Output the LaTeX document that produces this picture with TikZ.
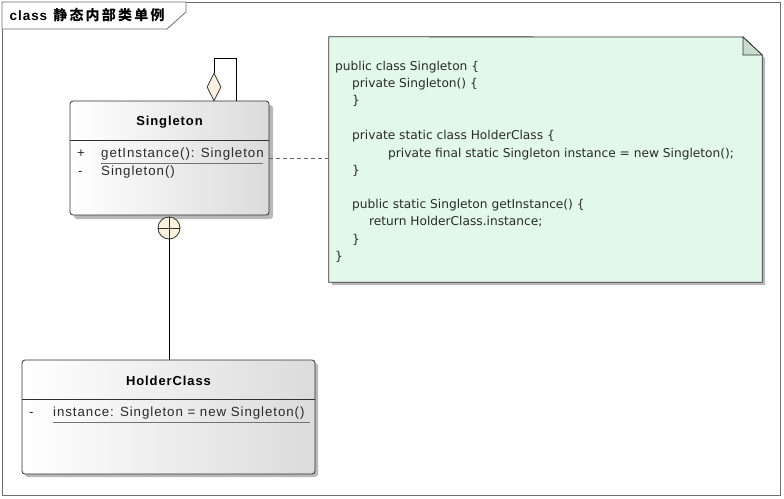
\documentclass[tikz,border=0pt]{standalone}
\usepackage{fontspec}
\setmainfont{Liberation Sans}
\newfontfamily\cjkfont[LetterSpace=16]{Noto Sans CJK SC}
\newfontfamily\umlfont[LetterSpace=7]{Liberation Sans}
\newfontfamily\notefont{DejaVu Sans}
\usetikzlibrary{shapes.geometric}
\definecolor{framec}{HTML}{6E6E6E}
\definecolor{linec}{HTML}{303030}
\definecolor{txtc}{HTML}{2A2A2A}
\definecolor{beige}{HTML}{FBF1E0}
\definecolor{notegreen}{HTML}{E2F9EA}
\definecolor{foldgreen}{HTML}{C9DCCD}
\definecolor{shadowc}{HTML}{B8B8B8}
\tikzset{
  classbox/.style={draw=linec, line width=0.8pt, rounded corners=3pt, left color=white, right color=black!14, inner sep=0pt},
  member/.style={anchor=west, inner sep=0pt, text height=9.5pt, text depth=3pt, text=txtc, font=\umlfont\fontsize{13.3}{15}\selectfont},
  ctitle/.style={inner sep=0pt, text=black, font=\umlfont\bfseries\fontsize{13}{15}\selectfont},
  codeline/.style={anchor=west, inner sep=0pt, text height=9pt, text depth=3pt, text=txtc, font=\notefont\fontsize{12.2}{14}\selectfont},
  uline/.style={draw=black!55, line width=0.7pt},
  conn/.style={draw=black, line width=0.8pt},
}
\begin{document}
\begin{tikzpicture}[x=1pt,y=-1pt]
\useasboundingbox (0,0) rectangle (784,498);
% frame
\draw[framec, line width=0.8pt] (2,2) rectangle (780,495);
\draw[framec, line width=0.8pt, fill=white] (2,2) -- (186,2) -- (186,12) -- (167,29) -- (2,29) -- cycle;
\node[anchor=west, inner sep=0pt, font=\umlfont\bfseries\fontsize{13.5}{15}\selectfont] (title) at (9.5,15) {class\hspace{6pt}\cjkfont\bfseries\fontsize{14}{15}\selectfont 静态内部类单例};
% Singleton class
\fill[shadowc, rounded corners=3pt] (74,105) rectangle (273,219);
\node[classbox, minimum width=199pt, minimum height=114pt] (S) at (169.5,158) {};
\draw[linec, line width=0.8pt] (S.west |- 0,140) -- (S.east |- 0,140);
\node[ctitle] (Sname) at (169.5,122) {Singleton};
\node[member] (p1) at (77,154) {+};
\node[member] (m1) at (101,154) {getInstance(): Singleton};
\draw[uline] (101,163) -- (263,163);
\node[member] (p2) at (78,172) {-};
\node[member] (m2) at (101,172) {Singleton()};
% self association with aggregation diamond
\node[diamond, draw=linec, line width=0.8pt, fill=beige, minimum width=14pt, minimum height=28pt, inner sep=0pt, aspect=0.5] (D) at (214,87) {};
\draw[conn] (D.north) -- (214,58) -- (236,58) -- (S.north -| 236,0);
% nesting connector
\node[circle, draw=linec, line width=0.8pt, fill=beige, minimum size=22pt, inner sep=0pt] (C) at (169,228) {};
\draw[linec, line width=0.8pt] (C.north) -- (C.south) (C.west) -- (C.east);
% HolderClass
\fill[shadowc, rounded corners=3pt] (25,363) rectangle (318,477);
\node[classbox, minimum width=293pt, minimum height=114pt] (H) at (168.5,417) {};
\draw[linec, line width=0.8pt] (H.west |- 0,399) -- (H.east |- 0,399);
\node[ctitle] (Hname) at (168.5,381) {HolderClass};
\node[member] (p3) at (29,413) {-};
\node[member] (m3) at (53,413) {instance: Singleton = new Singleton()};
\draw[uline] (53,422) -- (310,422);
\draw[conn] (C.south) -- (C.south |- H.north);
% note
\fill[shadowc] (332,40) -- (746,40) -- (765,58) -- (765,285) -- (332,285) -- cycle;
\node[minimum width=433pt, minimum height=245pt, inner sep=0pt] (N) at (545.5,159.5) {};
\draw[linec, line width=0.8pt, fill=notegreen] (N.north west) -- (743,37) -- (N.east |- 0,55) -- (N.south east) -- (N.south west) -- cycle;
\draw[linec, line width=0.8pt, fill=foldgreen] (743,37) -- (743,55) -- (N.east |- 0,55) -- cycle;
\draw[black!60, line width=0.8pt, dashed, dash pattern=on 4pt off 3pt] (S.east) -- (S.east -| N.west);
\node[codeline] (l1) at (335,67) {public class Singleton \{};
\node[codeline] (l2) at (352,84) {private Singleton() \{};
\node[codeline] (l3) at (352,101.5) {\}};
\node[codeline] (l4) at (352,136) {private static class HolderClass \{};
\node[codeline] (l5) at (388,154) {private final static Singleton instance = new Singleton();};
\node[codeline] (l6) at (352,171.5) {\}};
\node[codeline] (l7) at (352,205.5) {public static Singleton getInstance() \{};
\node[codeline] (l8) at (369,222.5) {return HolderClass.instance;};
\node[codeline] (l9) at (352,240) {\}};
\node[codeline] (l10) at (335,257.5) {\}};
\end{tikzpicture}
\end{document}
